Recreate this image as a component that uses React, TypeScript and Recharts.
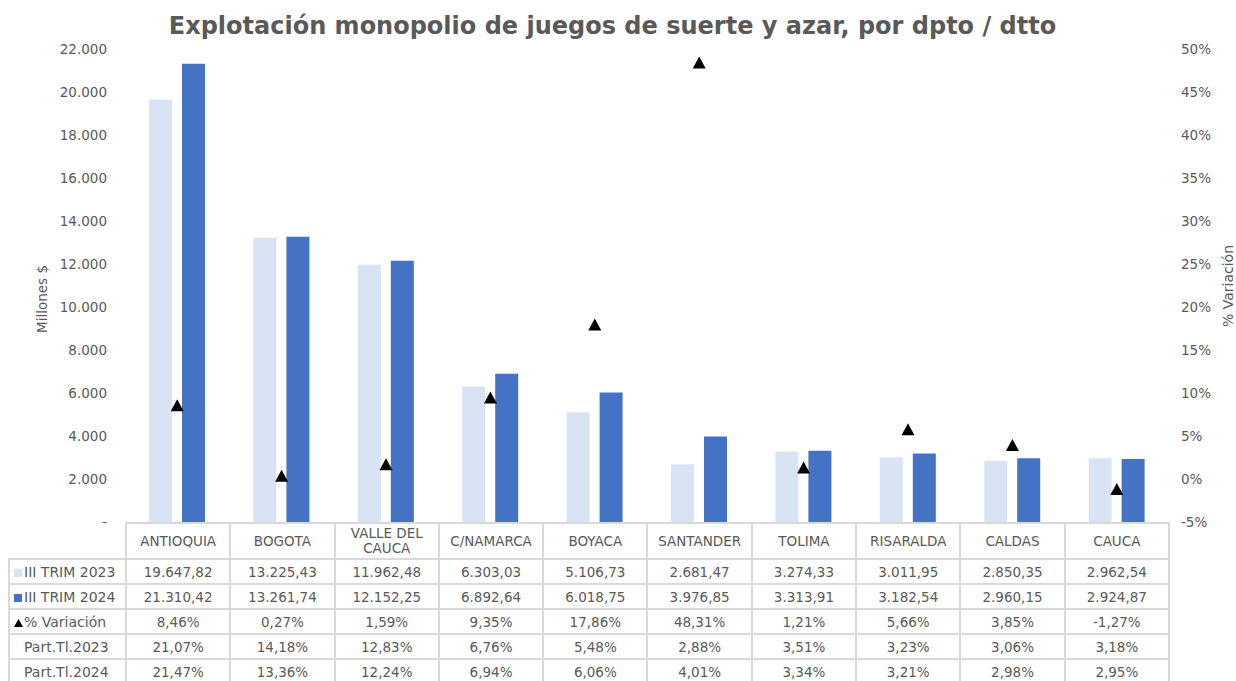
import React from 'react';
import { ComposedChart, Bar, Line, XAxis, YAxis } from 'recharts';

const categories = ['ANTIOQUIA', 'BOGOTA', 'VALLE DEL CAUCA', 'C/NAMARCA', 'BOYACA', 'SANTANDER', 'TOLIMA', 'RISARALDA', 'CALDAS', 'CAUCA'];
const trim2023 = [19647.82, 13225.43, 11962.48, 6303.03, 5106.73, 2681.47, 3274.33, 3011.95, 2850.35, 2962.54];
const trim2024 = [21310.42, 13261.74, 12152.25, 6892.64, 6018.75, 3976.85, 3313.91, 3182.54, 2960.15, 2924.87];
const variacion = [8.46, 0.27, 1.59, 9.35, 17.86, 48.31, 1.21, 5.66, 3.85, -1.27];
const part2023 = [21.07, 14.18, 12.83, 6.76, 5.48, 2.88, 3.51, 3.23, 3.06, 3.18];
const part2024 = [21.47, 13.36, 12.24, 6.94, 6.06, 4.01, 3.34, 3.21, 2.98, 2.95];

const leftTicks = [0, 2000, 4000, 6000, 8000, 10000, 12000, 14000, 16000, 18000, 20000, 22000];
const rightTicks = [-5, 0, 5, 10, 15, 20, 25, 30, 35, 40, 45, 50];

const LIGHT = '#DAE3F3';
const DARK = '#4472C4';
const TEXT = '#595959';
const GRID = '#D9D9D9';
const FONT = '"DejaVu Sans", Verdana, sans-serif';

const data = categories.map((c, i) => ({
  name: c,
  t2023: trim2023[i],
  t2024: trim2024[i],
  var: variacion[i],
}));

function fmt(v: number, d: number) {
  const [i, f] = Math.abs(v).toFixed(d).split('.');
  const int = i.replace(/\B(?=(\d{3})+(?!\d))/g, '.');
  return (v < 0 ? '-' : '') + int + (f ? ',' + f : '');
}

const Triangle = (props: any) => {
  const { cx, cy } = props;
  if (cx == null || cy == null) return null;
  return <path d={`M${cx},${cy - 7} L${cx + 6.5},${cy + 5} L${cx - 6.5},${cy + 5} Z`} fill="#000" />;
};

const rows = [
  { label: 'III TRIM 2023', icon: 'light', values: trim2023.map((v) => fmt(v, 2)) },
  { label: 'III TRIM 2024', icon: 'dark', values: trim2024.map((v) => fmt(v, 2)) },
  { label: '% Variación', icon: 'tri', values: variacion.map((v) => fmt(v, 2) + '%') },
  { label: 'Part.Tl.2023', icon: '', values: part2023.map((v) => fmt(v, 2) + '%') },
  { label: 'Part.Tl.2024', icon: '', values: part2024.map((v) => fmt(v, 2) + '%') },
];

const cell: React.CSSProperties = {
  border: `2px solid ${GRID}`,
  textAlign: 'center',
  padding: 0,
  color: TEXT,
};

function Icon({ kind }: { kind: string }) {
  if (kind === 'light' || kind === 'dark')
    return <span style={{ display: 'inline-block', width: 8, height: 8, background: kind === 'light' ? LIGHT : DARK, marginRight: 2 }} />;
  if (kind === 'tri')
    return (
      <svg width={9} height={8} style={{ marginRight: 1 }}>
        <path d="M4.5,0 L9,8 L0,8 Z" fill="#000" />
      </svg>
    );
  return <span style={{ display: 'inline-block', width: 10 }} />;
}

export default function App() {
  return (
    <div style={{ position: 'absolute', left: 0, top: 0, width: 1236, height: 681, background: '#fff', fontFamily: FONT, overflow: 'hidden' }}>
      <div style={{ position: 'absolute', left: 0, top: 11, width: 1225, textAlign: 'center', fontSize: 24, lineHeight: '30px', fontWeight: 'bold', color: TEXT }}>
        Explotación monopolio de juegos de suerte y azar, por dpto / dtto
      </div>
      <div style={{ position: 'absolute', left: 42, top: 299, transform: 'translate(-50%, -50%) rotate(-90deg)', fontSize: 13.5, color: TEXT, whiteSpace: 'nowrap' }}>
        Millones $
      </div>
      <div style={{ position: 'absolute', left: 1228, top: 286, transform: 'translate(-50%, -50%) rotate(-90deg)', fontSize: 14, color: TEXT, whiteSpace: 'nowrap' }}>
        % Variación
      </div>
      <ComposedChart
        width={1236}
        height={681}
        data={data}
        margin={{ top: 49, right: 0, left: 0, bottom: 159 }}
        barCategoryGap="23%"
        barGap={10}
        style={{ position: 'absolute', left: 0, top: 0 }}
      >
        <XAxis dataKey="name" hide height={0} />
        <YAxis
          yAxisId="left"
          width={125}
          domain={[0, 22000]}
          ticks={leftTicks}
          interval={0}
          axisLine={false}
          tickLine={false}
          tickMargin={12}
          tick={{ fill: TEXT, fontSize: 13.5, fontFamily: FONT }}
          tickFormatter={(v: number) => (v === 0 ? '-' : fmt(v, 0))}
        />
        <YAxis
          yAxisId="right"
          orientation="right"
          width={67}
          domain={[-5, 50]}
          ticks={rightTicks}
          interval={0}
          axisLine={false}
          tickLine={false}
          tickMargin={6}
          tick={{ fill: TEXT, fontSize: 13.5, fontFamily: FONT }}
          tickFormatter={(v: number) => `${v}%`}
        />
        <Bar yAxisId="left" dataKey="t2023" fill={LIGHT} isAnimationActive={false} />
        <Bar yAxisId="left" dataKey="t2024" fill={DARK} isAnimationActive={false} />
        <Line yAxisId="right" dataKey="var" stroke="none" dot={<Triangle />} activeDot={false} isAnimationActive={false} />
      </ComposedChart>
      <table
        style={{
          position: 'absolute',
          left: 8,
          top: 522,
          borderCollapse: 'collapse',
          tableLayout: 'fixed',
          width: 1160,
          fontSize: 13.5,
          fontFamily: FONT,
        }}
      >
        <colgroup>
          <col style={{ width: 117 }} />
          {categories.map((c) => (
            <col key={c} style={{ width: 104.3 }} />
          ))}
        </colgroup>
        <tbody>
          <tr style={{ height: 36 }}>
            <td style={{ ...cell, borderTop: 'none', borderLeft: 'none' }} />
            {categories.map((c) => (
              <td key={c} style={{ ...cell, lineHeight: '15px', padding: '0 8px' }}>
                {c}
              </td>
            ))}
          </tr>
          {rows.map((r) => (
            <tr key={r.label} style={{ height: 25 }}>
              <td style={{ ...cell, textAlign: 'left', paddingLeft: 4, whiteSpace: 'nowrap', fontSize: 14 }}>
                <Icon kind={r.icon} />
                {r.label}
              </td>
              {r.values.map((v, i) => (
                <td key={i} style={cell}>
                  {v}
                </td>
              ))}
            </tr>
          ))}
        </tbody>
      </table>
    </div>
  );
}
